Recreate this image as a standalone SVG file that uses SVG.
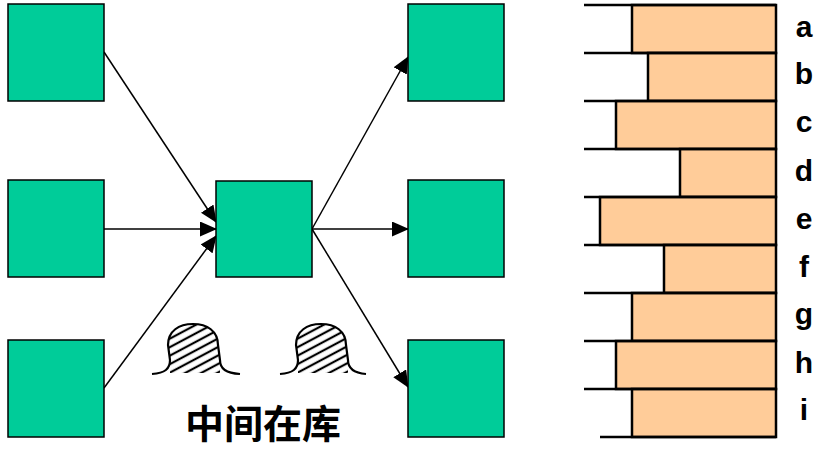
<svg xmlns="http://www.w3.org/2000/svg" width="816" height="449" viewBox="0 0 816 449">
<defs>
<style>
.box{fill:#00CC99;stroke:#000;stroke-width:1.5}
.conn{stroke:#000;stroke-width:1.5;fill:none}
.bar{fill:#FFCC99;stroke:#000;stroke-width:2.5}
.ln{stroke:#000;stroke-width:2.5}
.lbl{font-family:"Liberation Sans",Arial,sans-serif;font-weight:bold;font-size:30px;text-anchor:middle;fill:#000}
.cap{font-family:"Noto Sans CJK SC","Noto Sans CJK JP",sans-serif;font-weight:bold;font-size:39px;text-anchor:middle;fill:#000}
.hump{fill:url(#hatch);stroke:none}
.humpline{fill:none;stroke:#000;stroke-width:2.2}
</style>
<marker id="arr" markerWidth="17" markerHeight="15" refX="16" refY="7.5" orient="auto" markerUnits="userSpaceOnUse">
<path d="M0,0 L17,7.5 L0,15 Z" fill="#000"/>
</marker>
<pattern id="hatch" patternUnits="userSpaceOnUse" width="8" height="7.5" patternTransform="rotate(-28)">
<line x1="0" y1="3.75" x2="8" y2="3.75" stroke="#000" stroke-width="2.2"/>
</pattern>
</defs>
<g id="connectors">
<line class="conn" x1="104" y1="52" x2="216" y2="222" marker-end="url(#arr)"/>
<line class="conn" x1="104" y1="229" x2="216" y2="229" marker-end="url(#arr)"/>
<line class="conn" x1="104" y1="388" x2="216" y2="236" marker-end="url(#arr)"/>
<line class="conn" x1="312" y1="229" x2="408" y2="57" marker-end="url(#arr)"/>
<line class="conn" x1="312" y1="229" x2="408" y2="229" marker-end="url(#arr)"/>
<line class="conn" x1="312" y1="229" x2="408" y2="387" marker-end="url(#arr)"/>
</g>
<g id="src-top"><rect class="box" x="8" y="4" width="96" height="97"/></g>
<g id="src-mid"><rect class="box" x="8" y="180" width="96" height="97"/></g>
<g id="src-bot"><rect class="box" x="8" y="340" width="96" height="97"/></g>
<g id="center"><rect class="box" x="216" y="181" width="96" height="96"/></g>
<g id="dst-top"><rect class="box" x="408" y="4" width="96" height="97"/></g>
<g id="dst-mid"><rect class="box" x="408" y="180" width="96" height="97"/></g>
<g id="dst-bot"><rect class="box" x="408" y="340" width="96" height="97"/></g>
<g id="hump1">
<path class="hump" d="M170,373 L170,360 L168,345 C168,331 179,324 193,324 C207,324 218,331 218,345 L220,360 L220,373 Z"/>
<path class="humpline" d="M152,374 C165,373 170,369 170,360 L168,345 C168,331 179,324 193,324 C207,324 218,331 218,345 L220,360 C220,369 226,373 240,374"/>
</g>
<g id="hump2">
<path class="hump" d="M298,373 L298,360 L296,345 C296,331 307,324 321,324 C335,324 346,331 346,345 L348,360 L348,373 Z"/>
<path class="humpline" d="M280,374 C293,373 298,369 298,360 L296,345 C296,331 307,324 321,324 C335,324 346,331 346,345 L348,360 C348,369 354,373 366,374"/>
</g>
<text id="caption" class="cap" x="263" y="438">中间在库</text>
<g id="bars">
<rect class="bar" x="632" y="5" width="144" height="48"/>
<rect class="bar" x="648" y="53" width="128" height="48"/>
<rect class="bar" x="616" y="101" width="160" height="48"/>
<rect class="bar" x="680" y="149" width="96" height="48"/>
<rect class="bar" x="600" y="197" width="176" height="48"/>
<rect class="bar" x="664" y="245" width="112" height="48"/>
<rect class="bar" x="632" y="293" width="144" height="48"/>
<rect class="bar" x="616" y="341" width="160" height="48"/>
<rect class="bar" x="632" y="389" width="144" height="48"/>
<line class="ln" x1="584" y1="5" x2="776" y2="5"/>
<line class="ln" x1="584" y1="53" x2="776" y2="53"/>
<line class="ln" x1="584" y1="101" x2="776" y2="101"/>
<line class="ln" x1="584" y1="149" x2="776" y2="149"/>
<line class="ln" x1="584" y1="197" x2="776" y2="197"/>
<line class="ln" x1="584" y1="245" x2="776" y2="245"/>
<line class="ln" x1="584" y1="293" x2="776" y2="293"/>
<line class="ln" x1="584" y1="341" x2="776" y2="341"/>
<line class="ln" x1="584" y1="389" x2="776" y2="389"/>
<line class="ln" x1="600" y1="437" x2="776" y2="437"/>
</g>
<g id="labels">
<text class="lbl" x="804" y="37">a</text>
<text class="lbl" x="804" y="84">b</text>
<text class="lbl" x="804" y="132">c</text>
<text class="lbl" x="804" y="181">d</text>
<text class="lbl" x="804" y="229">e</text>
<text class="lbl" x="804" y="277">f</text>
<text class="lbl" x="804" y="324">g</text>
<text class="lbl" x="804" y="373">h</text>
<text class="lbl" x="804" y="420">i</text>
</g>
</svg>
